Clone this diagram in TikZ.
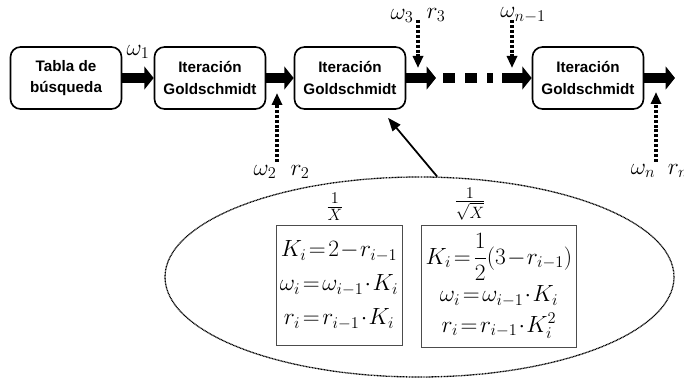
\RequirePackage{fix-cm}
\documentclass[tikz,border=0pt]{standalone}
\usepackage[no-math]{fontspec}
\setmainfont{Liberation Sans}
\usepackage{amsmath}
\usetikzlibrary{arrows.meta,shapes.geometric}
\thickmuskip=2mu
\medmuskip=1mu

\begin{document}
\begin{tikzpicture}[line width=0.8pt,
  bloque/.style={draw,line width=1.4pt,rounded corners=0.3cm,minimum width=3.33cm,
    minimum height=1.86cm,align=center,font=\fontsize{13}{18}\selectfont\bfseries},
  flujo/.style={line width=9pt,-{Triangle[length=0.28cm,width=0.68cm]}},
  entrada/.style={line width=3pt,dash pattern=on 2.6pt off 1.6pt,
    -{Triangle[length=0.36cm,width=0.3cm]}},
  etq/.style={font=\fontsize{20}{24}\selectfont,inner sep=0pt},
  formula/.style={draw=black!70,line width=0.8pt,align=center,
    font=\fontsize{20}{29}\selectfont},
  puntero/.style={line width=1.5pt,-{Triangle[length=0.4cm,width=0.3cm]}}]
\useasboundingbox (0,0) rectangle (20.52,11.37);
% ================= bloques de la cadena =================
\node[bloque] (tabla) at (1.98,9.03) {Tabla de\\búsqueda};
\node[bloque] (g1) at (6.3,9.03) {Iteración\\Goldschmidt};
\node[bloque] (g2) at (10.5,9.03) {Iteración\\Goldschmidt};
\node[bloque] (gn) at (17.64,9.03) {Iteración\\Goldschmidt};
% puntos de paso de las flechas gruesas
\coordinate (p1) at (13.08,9.03);
\coordinate (p2) at (13.29,9.03);
\coordinate (p3) at (14.8,9.03);
\coordinate (p4) at (15.06,9.03);
\coordinate (fin) at (20.25,9.03);
\draw[flujo] (tabla) -- (g1);
\draw[flujo] (g1) -- (g2);
\draw[flujo] (g2) -- (p1);
\draw[line width=9pt,dash pattern=on 0.36cm off 0.3cm] (p2) -- (p3);
\draw[flujo] (p4) -- (gn);
\draw[flujo] (gn) -- (fin);
\node[etq] (w1) at (4.14,9.81) {$\omega_1$};
% ================= entradas punteadas =================
\coordinate (e2a) at (8.31,6.51);
\coordinate (e2b) at (8.31,8.58);
\draw[entrada] (e2a) -- (e2b);
\node[etq] (lw2) at (7.95,6.21) {$\omega_2$};
\node[etq] (lr2) at (9.0,6.21) {$r_2$};
\coordinate (e3a) at (12.54,10.77);
\coordinate (e3b) at (12.54,9.33);
\draw[entrada] (e3a) -- (e3b);
\node[etq] (lw3) at (12.06,10.89) {$\omega_3$};
\node[etq] (lr3) at (13.08,10.92) {$r_3$};
\coordinate (ema) at (15.36,10.77);
\coordinate (emb) at (15.36,9.33);
\draw[entrada] (ema) -- (emb);
\node[etq] (lwm) at (15.69,10.92) {$\omega_{n-1}$};
\coordinate (ena) at (19.68,6.51);
\coordinate (enb) at (19.68,8.61);
\draw[entrada] (ena) -- (enb);
\node[etq] (lwn) at (19.29,6.24) {$\omega_n$};
\node[etq] (lrn) at (20.34,6.24) {$r_n$};
% ================= detalle de la iteracion =================
\node[draw,ellipse,line width=1.1pt,dash pattern=on 0.8pt off 0.5pt,
  minimum width=15.27cm,minimum height=6cm] (metodo) at (12.585,3.06) {};
\draw[puntero] (metodo.80) -- ([shift={(1.14,-0.24)}]g2.south);
\node[formula,minimum width=3.72cm,minimum height=3.6cm] (inv) at (10.17,2.82)
  {$K_i=2-r_{i-1}$\\ $\omega_i=\omega_{i-1}\cdot K_i$\\ $r_i=r_{i-1}\cdot K_i$};
\node[formula,minimum width=4.44cm,minimum height=3.66cm] (rsq) at (14.97,2.79)
  {$K_i=\dfrac{1}{2}(3-r_{i-1})$\\[3pt] $\omega_i=\omega_{i-1}\cdot K_i$\\[-3pt] $r_i=r_{i-1}\cdot K_i^2$};
\node[etq] (linv) at (10.05,5.16) {$\frac{1}{X}$};
\node[etq] (lrsq) at (14.1,5.26) {$\frac{1}{\sqrt{X}}$};
\end{tikzpicture}
\end{document}
